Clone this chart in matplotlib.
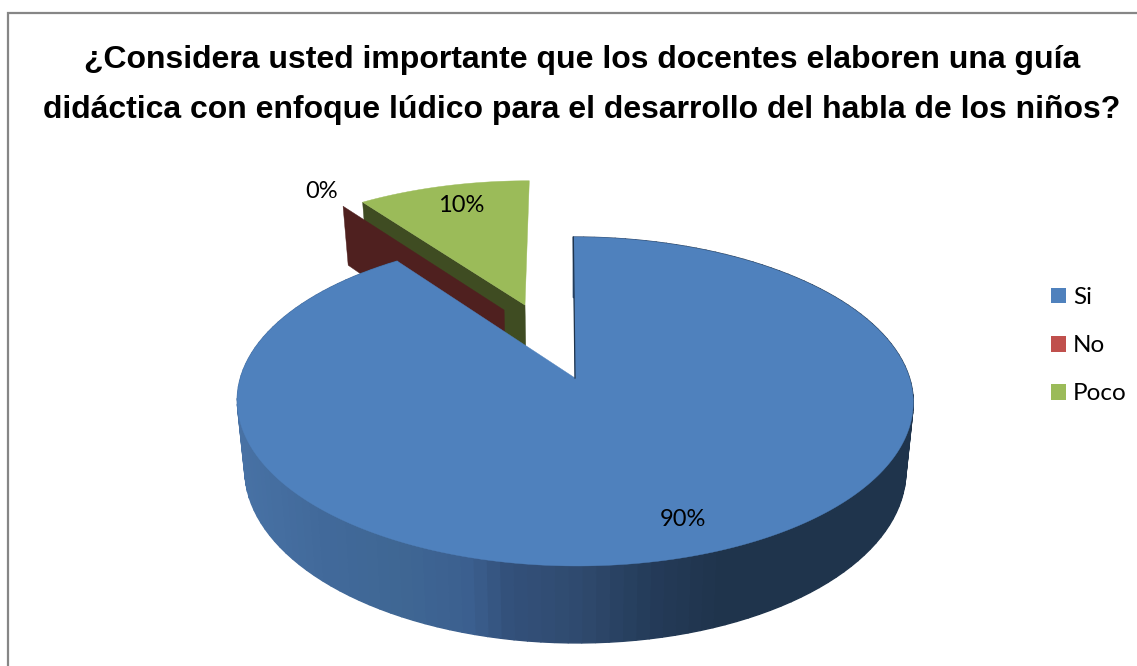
import numpy as np
import matplotlib
matplotlib.use('Agg')
import matplotlib.pyplot as plt
from matplotlib.patches import Patch

# data
# ------------------------------------------------------------------
categories = ['Si', 'No', 'Poco']
percentages = [90, 0, 10]
title_lines = ['¿Considera usted importante que los docentes elaboren una guía',
               'didáctica con enfoque lúdico para el desarrollo del habla de los niños?']

top_colors = ['#4F81BD', '#C0504D', '#9BBB59']
wall_colors = ['#1F344C', '#4F201F', '#3F4C22']
# shading of the blue side wall, from left to right
shade_x = [240, 330, 400, 470, 510, 580, 650, 714, 920]
shade_colors = ['#4872A5', '#41699A', '#3F6794', '#3B5F8F', '#33507A',
                '#2F4A6E', '#243B59', '#1F344C', '#1F344C']

# explosion of each slice in the plane of the pie
offsets = [(0.0, 0.0), (-0.223, 0.449), (-0.157, 0.484)]

# projection of the pie plane to the picture
X0, Y0, A, B, K = 575.0, 378.0, 334.5, 161.1, 0.1429
SHEAR = 0.012


def project(u, v):
    w = 1 + K * v
    y = Y0 - B * v / w
    x = X0 + A * u / w + SHEAR * (y - Y0)
    return x, y


def drop(x, y):
    # same point on the lower face of the pie
    return 576 + 0.978 * (x - 576), 445.6 + 1.05 * (y - Y0)


def rgb(color):
    return np.array(matplotlib.colors.to_rgb(color))


def shade(x):
    stops = np.array([rgb(c) for c in shade_colors])
    return [np.interp(x, shade_x, stops[:, i]) for i in range(3)]


fig = plt.figure(figsize=(11.37, 6.66), dpi=100)
ax = fig.add_axes([0, 0, 1, 1])
ax.set_xlim(0, 1137)
ax.set_ylim(666, 0)
ax.axis('off')

# slice angles, clockwise from the top
fractions = np.array(percentages) / sum(percentages)
ends = np.cumsum(fractions) * 2 * np.pi
starts = ends - fractions * 2 * np.pi

# back slices
# ------------------------------------------------------------------
for i in [2, 1]:
    du, dv = offsets[i]
    # radial wall of the slice
    tip = project(du, dv)
    rim = project(du + np.sin(starts[i]), dv + np.cos(starts[i]))
    ax.fill([tip[0], rim[0], drop(*rim)[0], drop(*tip)[0]],
            [tip[1], rim[1], drop(*rim)[1], drop(*tip)[1]],
            color=wall_colors[i], lw=0.3)
    if fractions[i] > 0:
        t = np.linspace(starts[i], ends[i], 60)
        x, y = project(du + np.sin(t), dv + np.cos(t))
        ax.fill(np.r_[tip[0], x], np.r_[tip[1], y], color=top_colors[i], lw=0.3)

# big slice
# ------------------------------------------------------------------
t = np.linspace(starts[0], ends[0], 160)
x, y = project(np.sin(t), np.cos(t))
lx, ly = drop(x, y)
for j in range(len(t) - 1):
    ax.fill([x[j], x[j + 1], lx[j + 1], lx[j]],
            [y[j], y[j + 1], ly[j + 1], ly[j]],
            color=shade((lx[j] + lx[j + 1]) / 2), lw=1.0)
t_top = np.linspace(starts[0], ends[0], 500)
x, y = project(np.sin(t_top), np.cos(t_top))
tip = project(0, 0)
ax.fill(np.r_[tip[0], x], np.r_[tip[1], y], color=top_colors[0], lw=0.3)
ax.plot([x[0], tip[0]], [y[0], tip[1]], color=wall_colors[0], lw=0.9)

# texts
# ------------------------------------------------------------------
label_xy = [(683, 519), (322, 192), (461, 206)]
for value, (lx_, ly_) in zip(percentages, label_xy):
    ax.text(lx_, ly_, '%d%%' % value, ha='center', va='center',
            family='Lato', fontsize=17, color='black')

for line, ty in zip(title_lines, [60, 110]):
    ax.text(582, ty, line, ha='center', va='center', family='Liberation Sans',
            fontweight='bold', fontsize=23, color='black')

handles = [Patch(facecolor=c, edgecolor='none') for c in top_colors]
legend = ax.legend(handles, categories, loc='upper left',
                   bbox_to_anchor=(1051 / 1137, 1 - 287 / 666), frameon=False,
                   borderaxespad=0, borderpad=0, handlelength=0.62,
                   handleheight=0.62, handletextpad=0.29, labelspacing=1.12,
                   prop={'family': 'Lato', 'size': 17.5})

# chart frame
ax.plot([8, 8, 1137], [666, 13, 13], color='#868686', lw=1.6, solid_joinstyle='miter')

fig.savefig('out.png', dpi=100)
